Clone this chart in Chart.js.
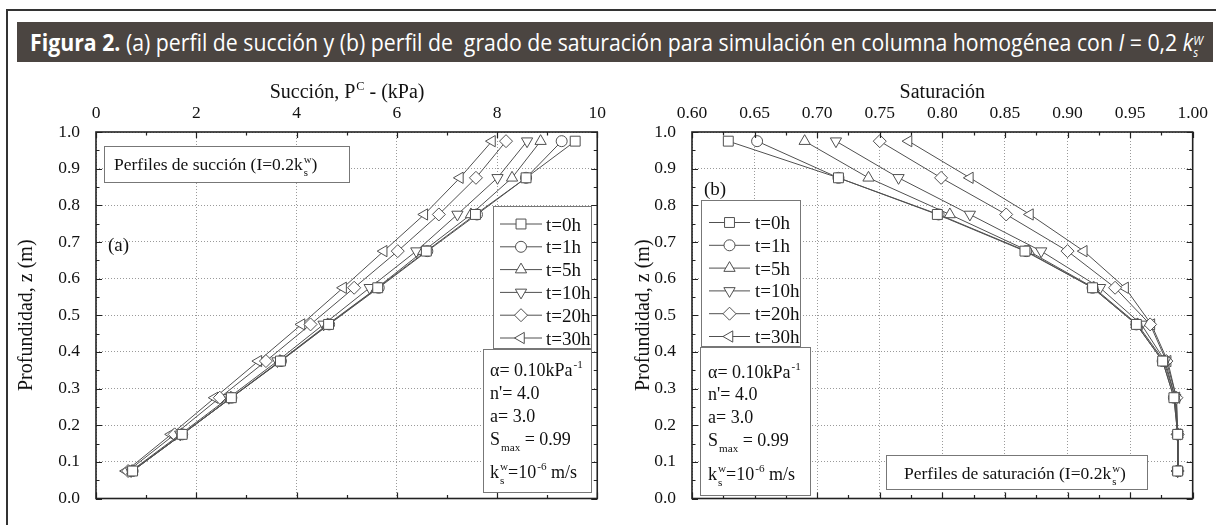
<!DOCTYPE html>
<html lang="es">
<head>
<meta charset="UTF-8">
<title>Figura 2</title>
<style>
  body { margin: 0; width: 1216px; height: 525px; overflow: hidden; position: relative; background: #fff; }
  .frame { position: absolute; left: 6px; top: 9px; width: 1220px; height: 530px; border-left: 2px solid #333; border-top: 2px solid #333; }
  .titleBar { position: absolute; left: 17px; top: 22px; width: 1196px; height: 40px; background: #4b4541; }
  .titleText { position: absolute; left: 30px; top: 22px; height: 40px; line-height: 40px; color: #fff;
               font-family: "Open Sans", sans-serif; font-size: 24px; white-space: nowrap; transform-origin: 0 50%; }
  .titleText b { font-weight: 700; }
  .kw { display: inline-block; vertical-align: -0.45em; font-size: 13px; line-height: 12px; font-style: italic; text-align: left; }
  .kw span { display: block; }
  canvas { position: absolute; top: 0; }
</style>
</head>
<body>
<div class="frame"></div>
<div class="titleBar"></div>
<div id="titleText" class="titleText"><b>Figura 2.</b> (a) perfil de succión y (b) perfil de&nbsp; grado de saturación para simulación en columna homogénea con <i>I</i> = 0,2 <i>k</i><span class="kw"><span>W</span><span>s</span></span></div>

<canvas id="chartA" width="614" height="525" style="left:0"></canvas>
<canvas id="chartB" width="602" height="525" style="left:614px"></canvas>

<script src="https://cdn.jsdelivr.net/npm/chart.js"></script>
<script>
  // profundidad de los nodos (m)
  const depthZ = [0.975, 0.875, 0.775, 0.675, 0.575, 0.475, 0.375, 0.275, 0.175, 0.075];
  const timeLabels = ['t=0h', 't=1h', 't=5h', 't=10h', 't=20h', 't=30h'];

  // (a) succion, kPa
  const suctionT0  = [9.56, 8.58, 7.57, 6.59, 5.62, 4.64, 3.68, 2.70, 1.72, 0.73];
  const suctionT1  = [9.29, 8.58, 7.60, 6.61, 5.64, 4.65, 3.69, 2.70, 1.72, 0.73];
  const suctionT5  = [8.87, 8.30, 7.48, 6.53, 5.61, 4.62, 3.67, 2.69, 1.71, 0.72];
  const suctionT10 = [8.60, 8.01, 7.21, 6.39, 5.46, 4.54, 3.62, 2.65, 1.68, 0.70];
  const suctionT20 = [8.18, 7.58, 6.84, 6.02, 5.15, 4.28, 3.39, 2.47, 1.57, 0.64];
  const suctionT30 = [7.90, 7.26, 6.55, 5.74, 4.93, 4.10, 3.24, 2.37, 1.50, 0.60];

  // (b) grado de saturacion
  const satT0  = [0.629, 0.717, 0.796, 0.866, 0.920, 0.955, 0.976, 0.985, 0.988, 0.988];
  const satT1  = [0.652, 0.717, 0.797, 0.867, 0.920, 0.955, 0.976, 0.985, 0.988, 0.988];
  const satT5  = [0.690, 0.741, 0.806, 0.869, 0.921, 0.956, 0.977, 0.986, 0.988, 0.988];
  const satT10 = [0.715, 0.765, 0.822, 0.879, 0.926, 0.959, 0.978, 0.986, 0.988, 0.988];
  const satT20 = [0.750, 0.799, 0.851, 0.900, 0.938, 0.966, 0.979, 0.987, 0.988, 0.988];
  const satT30 = [0.773, 0.822, 0.870, 0.913, 0.946, 0.967, 0.980, 0.987, 0.988, 0.988];

  const suctionTicks = [0, 2, 4, 6, 8, 10];
  const saturationTicks = [0.60, 0.65, 0.70, 0.75, 0.80, 0.85, 0.90, 0.95, 1.00];
  const depthTicks = [0.0, 0.1, 0.2, 0.3, 0.4, 0.5, 0.6, 0.7, 0.8, 0.9, 1.0];

  // marcadores: t=0 cuadrado, 1 circulo, 5 triangulo, 10 triangulo invertido, 20 rombo, 30 triangulo izq.
  const markers = [
    { style: 'rect', rot: 0, r: 7 },
    { style: 'circle', rot: 0, r: 5.5 },
    { style: 'triangle', rot: 0, r: 6.5 },
    { style: 'triangle', rot: 180, r: 6.5 },
    { style: 'rectRot', rot: 0, r: 6.5 },
    { style: 'triangle', rot: -90, r: 6.5 }
  ];

  const SERIF = '"Liberation Serif", "Times New Roman", serif';
  const INK = '#111';
  const LINE = '#505050';

  // texto con sub/superindices: parts = [{t}, {sup}, {sub}, {sub, sup}]
  function richWidth(ctx, parts, size) {
    let w = 0;
    parts.forEach(p => {
      if (p.t !== undefined) { ctx.font = size + 'px ' + SERIF; w += ctx.measureText(p.t).width; }
      else {
        ctx.font = (size * 0.62) + 'px ' + SERIF;
        w += Math.max(p.sup ? ctx.measureText(p.sup).width : 0, p.sub ? ctx.measureText(p.sub).width : 0);
      }
    });
    return w;
  }
  function drawRich(ctx, parts, x, base, size, align) {
    ctx.fillStyle = INK;
    ctx.textBaseline = 'alphabetic';
    ctx.textAlign = 'left';
    let cx = align === 'center' ? x - richWidth(ctx, parts, size) / 2 : x;
    parts.forEach(p => {
      if (p.t !== undefined) {
        ctx.font = size + 'px ' + SERIF;
        ctx.fillText(p.t, cx, base);
        cx += ctx.measureText(p.t).width;
      } else {
        ctx.font = (size * 0.62) + 'px ' + SERIF;
        let w = 0;
        if (p.sup) { ctx.fillText(p.sup, cx + 1, base - size * 0.42); w = ctx.measureText(p.sup).width + 1; }
        if (p.sub) { ctx.fillText(p.sub, cx + 1, base + size * 0.32); w = Math.max(w, ctx.measureText(p.sub).width + 1); }
        cx += w;
      }
    });
  }

  function box(ctx, x1, y1, x2, y2) {
    ctx.save();
    ctx.fillStyle = '#fff';
    ctx.strokeStyle = '#777';
    ctx.lineWidth = 1;
    ctx.fillRect(x1, y1, x2 - x1, y2 - y1);
    ctx.strokeRect(x1 + 0.5, y1 + 0.5, x2 - x1, y2 - y1);
    ctx.restore();
  }

  function marker(ctx, m, x, y) {
    ctx.fillStyle = '#fff';
    ctx.strokeStyle = LINE;
    ctx.lineWidth = 1;
    Chart.helpers.drawPoint(ctx, { pointStyle: m.style, rotation: m.rot, radius: m.r, borderWidth: 1 }, x, y);
  }

  function mids(arr) {
    const out = [];
    for (let i = 0; i < arr.length - 1; i++) out.push((arr[i] + arr[i + 1]) / 2);
    return out;
  }

  const paramLines = [
    [{ t: 'α= 0.10kPa' }, { sup: '-1' }],
    [{ t: "n'= 4.0" }],
    [{ t: 'a= 3.0' }],
    [{ t: 'S' }, { sub: 'max' }, { t: ' = 0.99' }],
    [{ t: 'k' }, { sub: 's', sup: 'w' }, { t: '=10' }, { sup: '-6' }, { t: ' m/s' }]
  ];

  // decorado de cada grafico (coordenadas de pagina, ox = desplazamiento del canvas)
  function decorPlugin(d) {
    return {
      id: 'decor',
      afterDraw(chart) {
        const { ctx, chartArea: a, scales: { x, y } } = chart;
        ctx.save();
        // ticks hacia dentro en los cuatro lados
        ctx.strokeStyle = '#222';
        ctx.lineWidth = 1.2;
        ctx.beginPath();
        const tx = (vals, len) => vals.forEach(v => {
          const px = Math.round(x.getPixelForValue(v)) + 0.5;
          ctx.moveTo(px, a.top); ctx.lineTo(px, a.top + len);
          ctx.moveTo(px, a.bottom); ctx.lineTo(px, a.bottom - len);
        });
        const ty = (vals, len) => vals.forEach(v => {
          const py = Math.round(y.getPixelForValue(v)) + 0.5;
          ctx.moveTo(a.left, py); ctx.lineTo(a.left + len, py);
          ctx.moveTo(a.right, py); ctx.lineTo(a.right - len, py);
        });
        tx(d.xTicks, 6); tx(mids(d.xTicks), 3.5);
        ty(depthTicks, 6); ty(mids(depthTicks), 3.5);
        ctx.stroke();
        ctx.lineWidth = 1.6;
        ctx.strokeRect(a.left, a.top, a.right - a.left, a.bottom - a.top);

        ctx.translate(-d.ox, 0);
        // titulo del eje x
        drawRich(ctx, d.xTitle, (a.left + a.right) / 2 + d.ox, 98, 20, 'center');

        // cuadro de descripcion
        const p = d.profile;
        box(ctx, p.x1, p.y1, p.x2, p.y2);
        drawRich(ctx, p.parts, p.tx, p.base, 17.5, 'left');

        // (a) / (b)
        drawRich(ctx, [{ t: d.tag.t }], d.tag.x, d.tag.base, 19, 'left');

        // leyenda
        const L = d.legend;
        box(ctx, L.x1, L.y1, L.x2, L.y2);
        timeLabels.forEach((lab, i) => {
          const ry = L.row0 + i * L.step;
          ctx.strokeStyle = LINE; ctx.lineWidth = 1;
          ctx.beginPath(); ctx.moveTo(L.lx1, ry); ctx.lineTo(L.lx2, ry); ctx.stroke();
          marker(ctx, markers[i], (L.lx1 + L.lx2) / 2, ry);
          drawRich(ctx, [{ t: lab }], L.tx, ry + 6.5, 19, 'left');
        });

        // parametros
        const P = d.params;
        box(ctx, P.x1, P.y1, P.x2, P.y2);
        paramLines.forEach((parts, i) => drawRich(ctx, parts, P.tx, P.bases[i], 18, 'left'));
        ctx.restore();
      }
    };
  }

  function makeChart(id, d) {
    const series = d.series.map((vals, i) => ({
      label: timeLabels[i],
      data: vals.map((v, k) => ({ x: v, y: depthZ[k] })),
      showLine: true,
      borderColor: LINE,
      borderWidth: 1,
      pointStyle: markers[i].style,
      pointRotation: markers[i].rot,
      pointRadius: markers[i].r,
      pointBackgroundColor: '#fff',
      pointBorderColor: LINE,
      pointBorderWidth: 1
    }));
    const gridStyle = { color: '#9a9a9a', lineWidth: 1, drawTicks: false };
    return new Chart(document.getElementById(id), {
      type: 'scatter',
      data: { datasets: series },
      options: {
        responsive: false,
        animation: false,
        events: [],
        layout: { padding: { left: 0, top: 0, right: d.padRight, bottom: 23 } },
        plugins: { legend: { display: false }, tooltip: { enabled: false } },
        scales: {
          x: {
            type: 'linear', position: 'top', min: d.xMin, max: d.xMax,
            afterBuildTicks: s => { s.ticks = d.xTicks.map(v => ({ value: v })); },
            afterFit: s => { s.height = 132; },
            ticks: { font: { family: SERIF, size: 17.5 }, color: INK, padding: 8, autoSkip: false, maxRotation: 0,
                     callback: d.xFormat },
            grid: gridStyle,
            border: { display: false, dash: [1, 2] }
          },
          y: {
            type: 'linear', position: 'left', min: 0, max: 1,
            afterBuildTicks: s => { s.ticks = depthTicks.map(v => ({ value: v })); },
            afterFit: s => { s.width = d.yWidth; },
            ticks: { font: { family: SERIF, size: 17.5 }, color: INK, padding: 16, autoSkip: false,
                     callback: v => v.toFixed(1) },
            grid: gridStyle,
            border: { display: false, dash: [1, 2] },
            title: { display: true, text: 'Profundidad, z (m)', color: INK,
                     font: { family: SERIF, size: 20 }, padding: { top: d.yTitlePad, bottom: 0 } }
          }
        }
      },
      plugins: [decorPlugin(d)]
    });
  }

  makeChart('chartA', {
    ox: 0, yWidth: 96, padRight: 15, yTitlePad: 15,
    xMin: 0, xMax: 10, xTicks: suctionTicks, xFormat: v => String(v),
    series: [suctionT0, suctionT1, suctionT5, suctionT10, suctionT20, suctionT30],
    xTitle: [{ t: 'Succión, P' }, { sup: 'C' }, { t: ' - (kPa)' }],
    profile: { x1: 104, y1: 146, x2: 349, y2: 182, tx: 114, base: 170,
               parts: [{ t: 'Perfiles de succión (I=0.2k' }, { sub: 's', sup: 'w' }, { t: ')' }] },
    tag: { t: '(a)', x: 108, base: 251 },
    legend: { x1: 493, y1: 206, x2: 591, y2: 348, row0: 224, step: 22.8, lx1: 500, lx2: 542, tx: 546 },
    params: { x1: 483, y1: 349, x2: 591, y2: 492, tx: 490, bases: [376, 399, 422, 445, 478] }
  });

  makeChart('chartB', {
    ox: 614, yWidth: 78, padRight: 19, yTitlePad: 18,
    xMin: 0.6, xMax: 1.0, xTicks: saturationTicks, xFormat: v => v.toFixed(2),
    series: [satT0, satT1, satT5, satT10, satT20, satT30],
    xTitle: [{ t: 'Saturación' }],
    profile: { x1: 886, y1: 455, x2: 1147, y2: 489, tx: 904, base: 479,
               parts: [{ t: 'Perfiles de saturación (I=0.2k' }, { sub: 's', sup: 'w' }, { t: ')' }] },
    tag: { t: '(b)', x: 704, base: 195 },
    legend: { x1: 701, y1: 200, x2: 800, y2: 346, row0: 222.5, step: 22.8, lx1: 709, lx2: 750, tx: 755 },
    params: { x1: 700, y1: 347, x2: 810, y2: 495, tx: 708, bases: [378, 400, 423, 446, 480] }
  });

  // ajustar el titulo condensado al ancho de la barra
  const tt = document.getElementById('titleText');
  const natural = tt.getBoundingClientRect().width;
  tt.style.transform = 'scaleX(' + (1173 / natural) + ')';
</script>
</body>
</html>
